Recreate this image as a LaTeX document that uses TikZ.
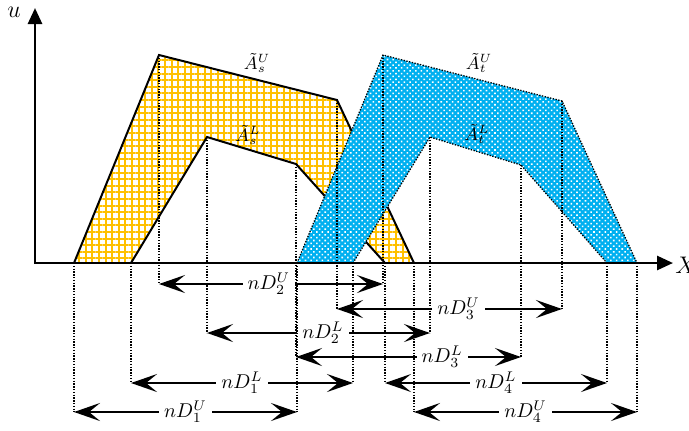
\documentclass[tikz,border=0pt]{standalone}
\usetikzlibrary{arrows.meta,patterns.meta}
\definecolor{gridyellow}{RGB}{255,192,0}
\definecolor{dotblue}{RGB}{0,176,240}
\begin{document}
\begin{tikzpicture}[x=0.5pt,y=-0.5pt,
    axis/.style={line width=1.35pt,{Triangle[length=8pt,width=7pt]}-{Triangle[length=8pt,width=7pt]}},
    dimline/.style={line width=1.3pt,{Stealth[length=13pt,width=9pt,inset=5.5pt]}-{Stealth[length=13pt,width=9pt,inset=5.5pt]}},
    guide/.style={line width=0.65pt,dash pattern=on 0.65pt off 0.75pt},
    lbl/.style={fill=white,inner sep=2.5pt,font=\normalsize},
    setlbl/.style={inner sep=1pt,font=\small}]
\useasboundingbox (0,0) rectangle (689,430);
% source set, upper and lower
\coordinate (su1) at (74,263);
\coordinate (su2) at (159,55);
\coordinate (su3) at (337,100);
\coordinate (su4) at (414,263);
\coordinate (sl1) at (131,263);
\coordinate (sl2) at (207,137);
\coordinate (sl3) at (296,164);
\coordinate (sl4) at (385,263);
% target set, upper and lower
\coordinate (tu1) at (297,263);
\coordinate (tu2) at (383,55);
\coordinate (tu3) at (562,101);
\coordinate (tu4) at (637,263);
\coordinate (tl1) at (353,263);
\coordinate (tl2) at (430,137);
\coordinate (tl3) at (521,165);
\coordinate (tl4) at (607,263);
% levels of the distances
\coordinate (h2u) at (0,284);
\coordinate (h3u) at (0,309);
\coordinate (h2l) at (0,333);
\coordinate (h3l) at (0,357);
\coordinate (h1l) at (0,383);
\coordinate (h1u) at (0,412);

\fill[pattern={Hatch[distance=3.3pt,line width=1pt]},pattern color=gridyellow]
    (su1)--(su2)--(su3)--(su4)--(sl4)--(sl3)--(sl2)--(sl1)--cycle;
\draw[line width=1pt] (su1)--(su2)--(su3)--(su4);
\draw[line width=1pt] (sl1)--(sl2)--(sl3)--(sl4);

\fill[dotblue] (tu1)--(tu2)--(tu3)--(tu4)--(tl4)--(tl3)--(tl2)--(tl1)--cycle;
\fill[pattern={Dots[distance=2pt,angle=45,radius=0.55pt]},pattern color=white]
    (tu1)--(tu2)--(tu3)--(tu4)--(tl4)--(tl3)--(tl2)--(tl1)--cycle;
\draw[guide] (tu1)--(tu2)--(tu3)--(tu4);
\draw[guide] (tl1)--(tl2)--(tl3)--(tl4);

\node[setlbl] (asu) at (257,63) {$\tilde{A}_s^U$};
\node[setlbl] (asl) at (248,135) {$\tilde{A}_s^L$};
\node[setlbl] (atu) at (479,63) {$\tilde{A}_t^U$};
\node[setlbl] (atl) at (477,134) {$\tilde{A}_t^L$};

% axes
\coordinate (o) at (35,263);
\coordinate (ytop) at (35,8);
\coordinate (xend) at (673,263);
\draw[axis] (ytop)--(o)--(xend);
\node[font=\large] (ulbl) at (14,12) {$u$};
\node[font=\large] (xlbl) at (686,265) {$X$};

% distances
\draw[dimline] (su2 |- h2u) -- node[lbl,pos=0.49]{$nD_2^U$} (tu2 |- h2u);
\draw[dimline] (su3 |- h3u) -- node[lbl,pos=0.54]{$nD_3^U$} (tu3 |- h3u);
\draw[dimline] (sl2 |- h2l) -- node[lbl,pos=0.52]{$nD_2^L$} (tl2 |- h2l);
\draw[dimline] (sl3 |- h3l) -- node[lbl,pos=0.65]{$nD_3^L$} (tl3 |- h3l);
\draw[dimline] (sl1 |- h1l) -- node[lbl]{$nD_1^L$} (tl1 |- h1l);
\draw[dimline] (sl4 |- h1l) -- node[lbl]{$nD_4^L$} (tl4 |- h1l);
\draw[dimline] (su1 |- h1u) -- node[lbl]{$nD_1^U$} (tu1 |- h1u);
\draw[dimline] (su4 |- h1u) -- node[lbl]{$nD_4^U$} (tu4 |- h1u);

% dotted guides
\draw[guide] (su2)--(su2 |- h2u);
\draw[guide] (tu2)--(tu2 |- h2u);
\draw[guide] (su3)--(su3 |- h3u);
\draw[guide] (tu3)--(tu3 |- h3u);
\draw[guide] (sl2)--(sl2 |- h2l);
\draw[guide] (tl2)--(tl2 |- h2l);
\draw[guide] (sl3)--(sl3 |- h3l);
\draw[guide] (tl3)--(tl3 |- h3l);
\draw[guide] (sl1)--(sl1 |- h1l);
\draw[guide] (tl1)--(tl1 |- h1l);
\draw[guide] (sl4)--(sl4 |- h1l);
\draw[guide] (tl4)--(tl4 |- h1l);
\draw[guide] (su1)--(su1 |- h1u);
\draw[guide] (tu1)--(tu1 |- h1u);
\draw[guide] (su4)--(su4 |- h1u);
\draw[guide] (tu4)--(tu4 |- h1u);
\end{tikzpicture}
\end{document}
